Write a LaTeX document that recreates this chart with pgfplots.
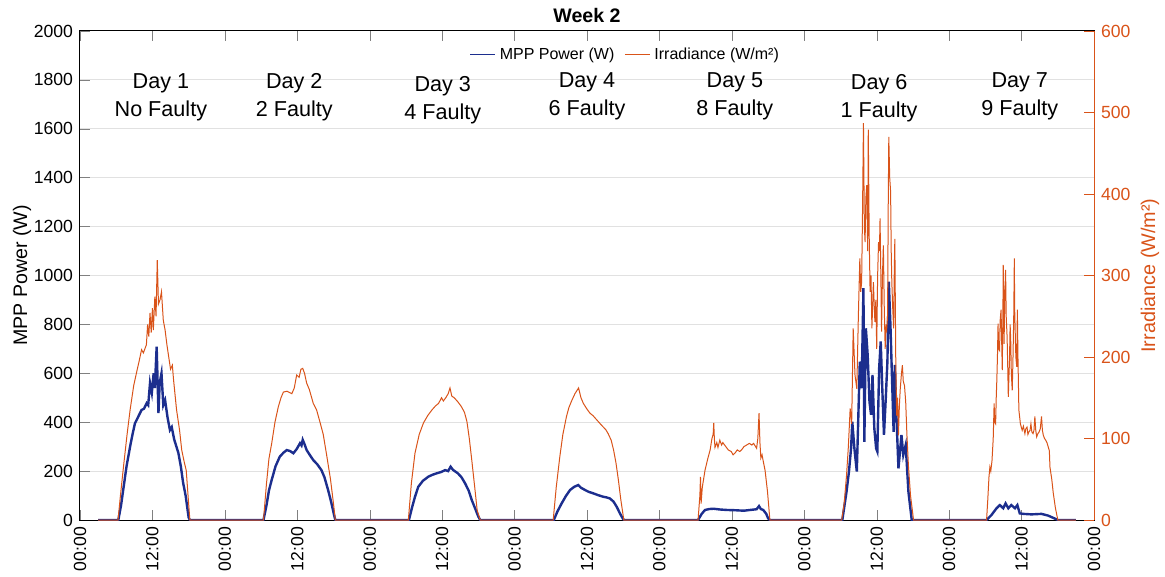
\documentclass[border=0pt]{standalone}
\usepackage{fontspec}
\setmainfont{Liberation Sans}
\usepackage{pgfplots}
\pgfplotsset{compat=1.18}
\definecolor{mppblue}{RGB}{28,46,142}
\definecolor{irrorange}{RGB}{217,83,25}
\definecolor{gridgray}{RGB}{225,225,225}
\begin{document}
\begin{tikzpicture}
\path[use as bounding box] (-40pt,-28.5pt) rectangle (542.5pt,260pt);
\begin{axis}[
  at={(0pt,0pt)}, anchor=south west,
  width=507pt, height=244.5pt, scale only axis,
  xmin=0, xmax=168, ymin=0, ymax=2000,
  xtick={0,12,...,168},
  xticklabels={00:00,12:00,00:00,12:00,00:00,12:00,00:00,12:00,00:00,12:00,00:00,12:00,00:00,12:00,00:00},
  xticklabel style={rotate=90, anchor=east, font=\fontsize{8.8}{10}\selectfont},
  ytick={0,200,...,2000},
  yticklabel style={font=\fontsize{8.8}{10}\selectfont, /pgf/number format/assume math mode=true, /pgf/number format/1000 sep={}},
  ytick pos=left, xtick pos=both,
  tick align=inside, major tick length=5pt,
  ymajorgrids, grid style={gridgray, line width=0.5pt},
  axis line style={line width=0.5pt},
  ylabel={MPP Power (W)},
  ylabel style={at={(axis description cs:-0.0572,0.5)}, anchor=center, font=\fontsize{9.8}{11}\selectfont},
  title={\textbf{Week 2}},
  title style={at={(axis description cs:0.5,1.031)}, anchor=center, yshift=-6pt, font=\fontsize{9.8}{11}\selectfont},
  clip=true,
]
\addplot[mppblue, line width=1.2pt] coordinates {
(3,0) (6.35,0) (6.8,60) (7.2,130) (7.7,218) (8.3,300) (8.7,350) (9.1,395) (9.6,420) (10.2,450) (10.6,455) (11.05,478) (11.3,470) (11.6,560) (11.9,520) (12.2,600) (12.4,540) (12.7,709) (13.0,437) (13.2,560) (13.5,600) (13.8,470) (14.1,490) (14.5,420) (14.9,368) (15.2,380) (15.6,330) (16.3,274) (16.7,220) (17.1,150) (17.5,100) (18.0,10) (18.2,0)
(30.4,0) (30.9,60) (31.3,120) (31.76,164) (32.4,220) (33.1,259) (33.7,275) (34.25,286) (34.8,282) (35.35,273) (35.9,290) (36.45,314) (36.7,305) (36.9,328) (37.2,310) (37.55,286) (38.1,265) (38.65,245) (39.3,228) (40.0,204) (40.5,175) (41.1,123) (41.6,75) (42.1,20) (42.3,0)
(54.5,0) (55.0,50) (55.5,95) (56.05,136) (56.8,160) (57.7,177) (58.4,185) (59.1,191) (59.8,196) (60.5,204) (61.0,200) (61.4,218) (61.8,205) (62.6,191) (63.2,175) (63.8,150) (64.4,120) (64.9,82) (65.5,45) (66.0,14) (66.3,0)
(78.5,0) (79.1,35) (79.8,68) (80.5,98) (81.2,123) (81.9,136) (82.55,143) (83.0,132) (83.65,123) (84.3,115) (85.05,109) (85.8,102) (86.7,95) (87.3,92) (87.8,88) (88.4,75) (88.9,55) (89.5,25) (90.0,3) (90.2,0)
(102.4,0) (103.0,25) (103.55,41) (104.3,45) (105.0,46) (106.0,43) (107.2,41) (108.5,40) (110.0,38) (111.0,41) (112.1,44) (112.5,57) (112.8,45) (113.2,41) (113.7,25) (114.0,7) (114.3,0)
(126.3,0) (127.0,116) (127.4,198) (127.75,293) (127.95,402) (128.3,293) (128.7,198) (128.96,430) (129.2,648) (129.5,539) (129.8,948) (129.95,320) (130.2,784) (130.5,675) (130.8,484) (131.06,430) (131.3,593) (131.6,375) (131.9,293) (132.1,280) (132.4,620) (132.66,730) (132.94,525) (133.2,348) (133.5,498) (133.77,648) (134.0,975) (134.27,798) (134.5,607) (134.8,361) (135.0,634) (135.3,402) (135.6,211) (135.9,293) (136.1,348) (136.4,266) (136.8,307) (137.25,116) (137.8,0)
(150.2,0) (151.0,20) (151.85,48) (152.4,61) (152.96,48) (153.35,68) (153.8,48) (154.3,61) (154.9,48) (155.3,61) (155.7,27) (156.3,25) (157.65,23) (159.3,25) (160.4,18) (161.4,7) (162.0,0) (165,0)
};
\node[align=center, font=\fontsize{10.8}{13.8}\selectfont] at (axis cs:13.4,1729) {Day 1\\No Faulty};
\node[align=center, font=\fontsize{10.8}{13.8}\selectfont] at (axis cs:35.5,1729) {Day 2\\2 Faulty};
\node[align=center, font=\fontsize{10.8}{13.8}\selectfont] at (axis cs:60.1,1717) {Day 3\\4 Faulty};
\node[align=center, font=\fontsize{10.8}{13.8}\selectfont] at (axis cs:84.0,1732) {Day 4\\6 Faulty};
\node[align=center, font=\fontsize{10.8}{13.8}\selectfont] at (axis cs:108.5,1732) {Day 5\\8 Faulty};
\node[align=center, font=\fontsize{10.8}{13.8}\selectfont] at (axis cs:132.4,1725) {Day 6\\1 Faulty};
\node[align=center, font=\fontsize{10.8}{13.8}\selectfont] at (axis cs:155.7,1732) {Day 7\\9 Faulty};
\end{axis}
\begin{axis}[
  at={(0pt,0pt)}, anchor=south west,
  width=507pt, height=244.5pt, scale only axis,
  xmin=0, xmax=168, ymin=0, ymax=600,
  axis x line=none,
  axis y line*=right,
  ytick={0,100,...,600},
  ytick pos=right,
  tick align=inside, major tick length=5pt,
  y axis line style={irrorange, line width=0.5pt},
  ytick style={irrorange},
  yticklabel style={irrorange, font=\fontsize{8.8}{10}\selectfont, /pgf/number format/assume math mode=true},
  ylabel={Irradiance (W/m²)},
  ylabel style={irrorange, at={(axis description cs:1.0552,0.5)}, anchor=center, font=\fontsize{9.9}{11}\selectfont},
  legend columns=2,
  legend style={at={(axis description cs:0.382,0.951)}, anchor=west, draw=none, fill=white, inner sep=1pt, font=\fontsize{8}{9}\selectfont, /tikz/every even column/.append style={column sep=3pt}},
  legend image code/.code={\draw[#1] (0pt,0pt) -- (12.5pt,0pt);},
]
\addlegendimage{mppblue, line width=0.5pt}
\addlegendentry{MPP Power (W)}
\addplot[irrorange, line width=0.5pt] coordinates {
(3,0) (6.3,0) (6.7,30) (7.2,65) (7.8,105) (8.3,135) (8.9,165) (9.4,182) (9.8,195) (10.2,209) (10.5,205) (11.0,215) (11.2,240) (11.4,225) (11.6,254) (11.8,230) (12.0,260) (12.15,233) (12.4,274) (12.6,250) (12.8,319) (13.0,265) (13.25,270) (13.5,280) (13.8,245) (14.1,233) (14.4,215) (14.6,205) (15.0,185) (15.3,190) (15.5,172) (16.0,135) (16.5,110) (16.85,86) (17.3,70) (17.6,61) (17.9,30) (18.2,0)
(30.4,0) (30.9,45) (31.3,75) (31.76,94) (32.3,120) (32.86,139) (33.3,150) (33.7,157) (34.3,158) (35.1,155) (35.5,162) (35.9,178) (36.3,175) (36.6,185) (36.9,186) (37.2,180) (37.55,168) (38.0,160) (38.65,143) (39.2,135) (39.8,119) (40.3,105) (40.9,78) (41.5,50) (42.0,20) (42.3,0)
(54.4,0) (54.9,45) (55.5,82) (56.2,105) (56.9,119) (57.6,128) (58.3,135) (58.9,140) (59.4,143) (59.9,150) (60.2,146) (60.6,150) (61.0,155) (61.3,162) (61.6,152) (62.0,150) (62.6,145) (63.2,139) (63.7,132) (64.1,121) (64.5,100) (64.9,74) (65.4,40) (65.8,12) (66.3,0)
(78.4,0) (78.9,40) (79.5,78) (80.0,105) (80.6,127) (81.0,138) (81.5,147) (82.0,155) (82.6,162) (83.0,150) (83.4,143) (84.0,136) (84.5,131) (85.0,128) (85.6,123) (86.2,118) (86.7,114) (87.1,111) (87.5,106) (88.0,98) (88.4,86) (88.8,70) (89.2,49) (89.6,25) (90.1,0)
(102.4,0) (102.7,30) (102.8,53) (102.9,20) (103.1,40) (103.55,61) (104.0,75) (104.4,86) (104.7,100) (104.9,105) (105.0,119) (105.1,100) (105.2,89) (105.5,95) (105.7,89) (106.0,98) (106.3,92) (106.5,95) (107.0,90) (107.4,86) (107.9,84) (108.2,80) (108.5,82) (108.9,86) (109.3,84) (109.6,86) (110.0,90) (110.45,92) (110.9,94) (111.3,92) (111.6,94) (112.1,88) (112.3,100) (112.5,131) (112.65,95) (112.8,76) (113.0,80) (113.2,72) (113.5,61) (113.9,35) (114.3,0)
(126.2,0) (126.6,20) (127.0,55) (127.3,90) (127.6,137) (127.85,118) (128.1,235) (128.4,178) (128.7,161) (128.96,251) (129.2,321) (129.35,280) (129.5,292) (129.65,380) (129.8,487) (129.95,360) (130.07,341) (130.2,395) (130.35,411) (130.5,330) (130.6,479) (130.75,350) (130.9,280) (131.05,300) (131.2,235) (131.35,270) (131.45,292) (131.6,260) (131.7,243) (131.85,270) (132.0,210) (132.15,300) (132.3,341) (132.45,330) (132.55,370) (132.7,290) (132.8,231) (132.95,300) (133.1,337) (133.25,260) (133.4,210) (133.55,240) (133.66,235) (133.8,251) (133.9,380) (134.0,470) (134.15,420) (134.3,403) (134.4,330) (134.5,292) (134.65,260) (134.8,235) (134.9,300) (135.0,345) (135.15,200) (135.3,128) (135.45,150) (135.6,104) (135.75,140) (135.9,161) (136.1,180) (136.25,190) (136.4,170) (136.6,165) (136.8,145) (137.0,105) (137.25,67) (137.6,30) (138.1,0)
(150.2,0) (150.4,25) (150.6,53) (150.75,65) (150.9,60) (151.1,73) (151.3,100) (151.45,143) (151.55,120) (151.7,118) (151.8,150) (151.9,172) (152.0,200) (152.1,241) (152.2,210) (152.35,208) (152.45,245) (152.6,258) (152.7,220) (152.8,184) (152.9,250) (152.96,313) (153.05,260) (153.1,216) (153.2,270) (153.35,307) (153.45,250) (153.6,225) (153.7,190) (153.8,151) (153.9,175) (154.0,196) (154.1,240) (154.2,221) (154.3,180) (154.45,159) (154.55,190) (154.6,208) (154.7,250) (154.8,321) (154.85,260) (154.95,229) (155.05,200) (155.2,188) (155.3,258) (155.4,200) (155.55,135) (155.7,125) (155.8,118) (156.1,110) (156.3,115) (156.55,106) (156.7,112) (156.9,114) (157.05,105) (157.2,108) (157.4,110) (157.55,118) (157.7,108) (157.9,106) (158.05,110) (158.2,127) (158.35,110) (158.5,102) (158.7,106) (158.9,108) (159.1,112) (159.3,127) (159.45,110) (159.6,104) (159.8,100) (160.0,98) (160.2,95) (160.4,90) (160.6,85) (160.7,65) (161.0,50) (161.25,33) (161.6,15) (162.0,0) (165,0)
};
\addlegendentry{Irradiance (W/m²)}
\end{axis}
\end{tikzpicture}
\end{document}
